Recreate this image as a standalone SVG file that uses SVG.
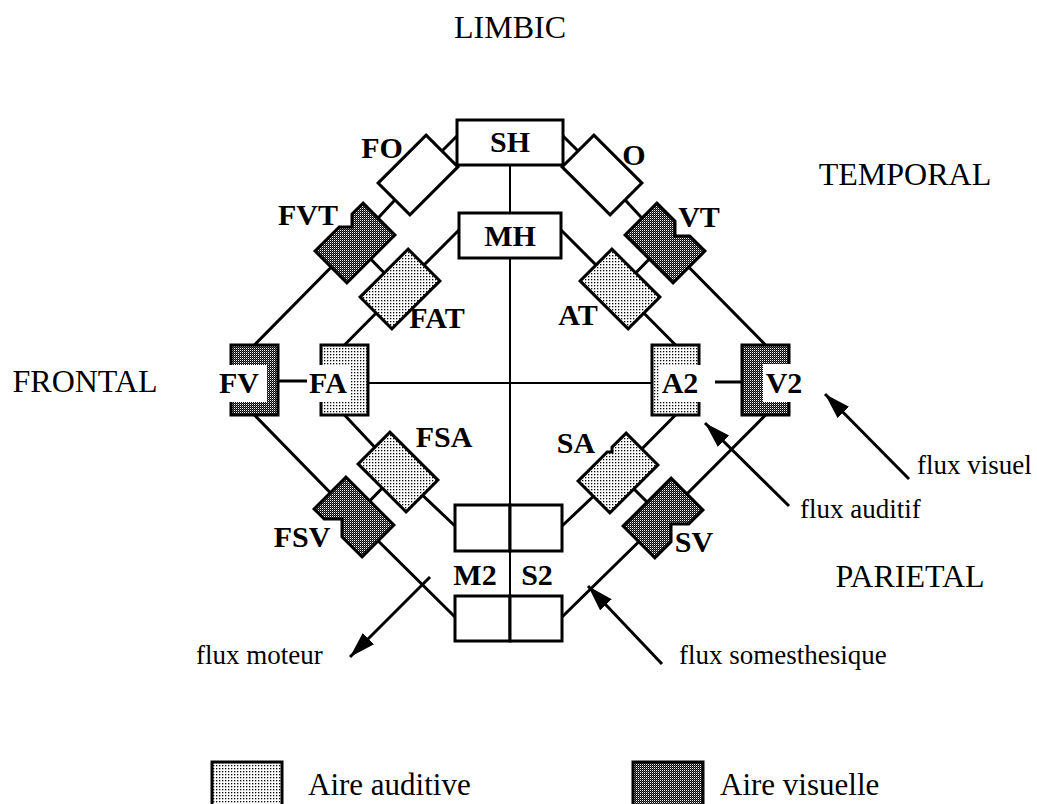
<svg xmlns="http://www.w3.org/2000/svg" width="1037" height="804" viewBox="0 0 1037 804">
<defs>
<pattern id="pa" width="3" height="3" patternUnits="userSpaceOnUse"><rect width="3" height="3" fill="#fff"/><rect width="1.3" height="1.3" fill="#000"/></pattern>
<pattern id="pv" width="2" height="2" patternUnits="userSpaceOnUse"><rect width="2" height="2" fill="#000"/><rect x="0" y="0" width="1" height="1" fill="#fff"/><rect x="1" y="1" width="1" height="1" fill="#fff" fill-opacity="0.35"/></pattern>
<marker id="ah" markerUnits="userSpaceOnUse" markerWidth="28" markerHeight="18" refX="26" refY="8" orient="auto"><path d="M0,0 L26,8 L0,16 Z" fill="#000"/></marker>
</defs>
<style>
.ln{fill:none;stroke:#000;stroke-width:3}
.th{fill:none;stroke:#000;stroke-width:2}
.ar{fill:none;stroke:#000;stroke-width:3;marker-end:url(#ah)}
.bx{fill:#fff;stroke:#000;stroke-width:3}
.au{fill:url(#pa);stroke:#000;stroke-width:3}
.vi{fill:url(#pv);stroke:#000;stroke-width:3}
.bg{fill:#fff}
.lb{font-family:"Liberation Serif","Times New Roman",serif;font-weight:bold;font-size:30px;fill:#000;text-anchor:middle}
.rg{font-family:"Liberation Serif","Times New Roman",serif;font-size:32px;fill:#000;text-anchor:middle}
.fx{font-family:"Liberation Serif","Times New Roman",serif;font-size:27px;fill:#000}
.lg{font-family:"Liberation Serif","Times New Roman",serif;font-size:31px;fill:#000}
</style>
<rect width="1037" height="804" fill="#fff"/>

<g id="connectors">
<polyline class="ln" points="457,136 418,175 355,243 254.5,345"/>
<polyline class="ln" points="563,136 602,175 665,243 765.5,345"/>
<polyline class="ln" points="459,230 400,289 344.5,345"/>
<polyline class="ln" points="561,230 620,289 675.5,345"/>
<polyline class="ln" points="254.5,415 354,517 455,617"/>
<polyline class="ln" points="765.5,415 663,518 562,617"/>
<polyline class="ln" points="344.5,415 398,472 455,526"/>
<polyline class="ln" points="675.5,415 618,473 562,526"/>
<line class="th" x1="510" y1="165" x2="510" y2="505"/>
<line class="th" x1="510" y1="551" x2="510" y2="596"/>
<line class="th" x1="368" y1="383" x2="652" y2="383"/>
<line class="ln" x1="278" y1="381" x2="321" y2="381"/>
<line class="ln" x1="699" y1="382" x2="742" y2="382"/>
<line class="ln" x1="355" y1="243" x2="400" y2="289"/>
<line class="ln" x1="665" y1="243" x2="620" y2="289"/>
<line class="ln" x1="398" y1="472" x2="354" y2="517"/>
<line class="ln" x1="618" y1="473" x2="663" y2="518"/>
<line class="ar" x1="430" y1="577" x2="350" y2="657"/>
<line class="ar" x1="662" y1="664" x2="588" y2="586"/>
<line class="ar" x1="789" y1="506" x2="705" y2="423"/>
<line class="ar" x1="909" y1="479" x2="825" y2="394"/>
</g>

<g id="SH"><rect class="bx" x="457" y="120" width="106" height="45"/><text class="lb" x="510" y="152">SH</text></g>
<g id="MH"><rect class="bx" x="459" y="213" width="102" height="45"/><text class="lb" x="510" y="246">MH</text></g>
<g id="FO"><polygon class="bx" points="426.1,135.1 457.9,166.9 409.9,214.9 378.1,183.1"/><text class="lb" x="382" y="158">FO</text></g>
<g id="O"><polygon class="bx" points="593.9,135.1 641.9,183.1 610.1,214.9 562.1,166.9"/><text class="lb" x="634" y="165">O</text></g>
<g id="FVT"><polygon class="vi" points="363.1,203.1 394.9,234.9 346.9,282.9 315.1,251.1 339.2,227 352,227 352,214.2"/><text class="lb" x="308" y="225">FVT</text></g>
<g id="VT"><polygon class="vi" points="656.9,203.1 675,221.2 675,236 689.8,236 704.9,251.1 673.1,282.9 625.1,234.9"/><text class="lb" x="699" y="227">VT</text></g>
<g id="FAT"><polygon class="au" points="408.1,249.1 439.9,280.9 391.9,328.9 360.1,297.1"/><text class="lb" x="437" y="328">FAT</text></g>
<g id="AT"><polygon class="au" points="611.9,249.1 659.9,297.1 628.1,328.9 580.1,280.9"/><text class="lb" x="578" y="325">AT</text></g>
<g id="FV"><rect class="vi" x="231" y="345" width="47" height="70"/><rect class="bg" x="214" y="365" width="53" height="37"/><text class="lb" x="239" y="393">FV</text></g>
<g id="FA"><rect class="au" x="321" y="345" width="47" height="70"/><rect class="bg" x="307" y="365" width="43" height="37"/><text class="lb" x="328" y="393">FA</text></g>
<g id="A2"><rect class="au" x="652" y="345" width="47" height="70"/><rect class="bg" x="660" y="365" width="55" height="37"/><text class="lb" x="680" y="393">A2</text></g>
<g id="V2"><rect class="vi" x="742" y="345" width="47" height="70"/><rect class="bg" x="763" y="364" width="43" height="38"/><text class="lb" x="784" y="393">V2</text></g>
<g id="FSA"><polygon class="au" points="389.9,432.1 437.9,480.1 406.1,511.9 358.1,463.9"/><text class="lb" x="444" y="447">FSA</text></g>
<g id="SA"><polygon class="au" points="626.1,433.1 657.9,464.9 609.9,512.9 578.1,481.1 607.2,452 612,452 612,447.2"/><text class="lb" x="576" y="453">SA</text></g>
<g id="FSV"><polygon class="vi" points="345.9,477.1 393.9,525.1 362.1,556.9 342,536.8 342,519 324.2,519 314.1,508.9"/><text class="lb" x="302" y="547">FSV</text></g>
<g id="SV"><polygon class="vi" points="671.1,478.1 702.9,509.9 688.8,524 671,524 671,541.8 654.9,557.9 623.1,526.1"/><text class="lb" x="694" y="552">SV</text></g>
<g id="M2"><rect class="bx" x="455" y="505" width="55" height="46"/><rect class="bx" x="455" y="596" width="55" height="45"/><text class="lb" x="475" y="585">M2</text></g>
<g id="S2"><rect class="bx" x="510" y="505" width="52" height="46"/><rect class="bx" x="510" y="596" width="52" height="45"/><text class="lb" x="537" y="585">S2</text></g>

<g id="regions">
<text class="rg" x="510" y="38">LIMBIC</text>
<text class="rg" x="905" y="185">TEMPORAL</text>
<text class="rg" x="85" y="392">FRONTAL</text>
<text class="rg" x="910" y="587">PARIETAL</text>
</g>
<g id="flux-labels">
<text class="fx" x="917" y="474">flux visuel</text>
<text class="fx" x="800" y="518">flux auditif</text>
<text class="fx" x="196" y="664">flux moteur</text>
<text class="fx" x="679" y="664">flux somesthesique</text>
</g>
<g id="legend-auditive"><rect class="au" x="212" y="762" width="70" height="48"/><text class="lg" x="308" y="795">Aire auditive</text></g>
<g id="legend-visuelle"><rect class="vi" x="633" y="762" width="70" height="48"/><text class="lg" x="720" y="795">Aire visuelle</text></g>
</svg>
